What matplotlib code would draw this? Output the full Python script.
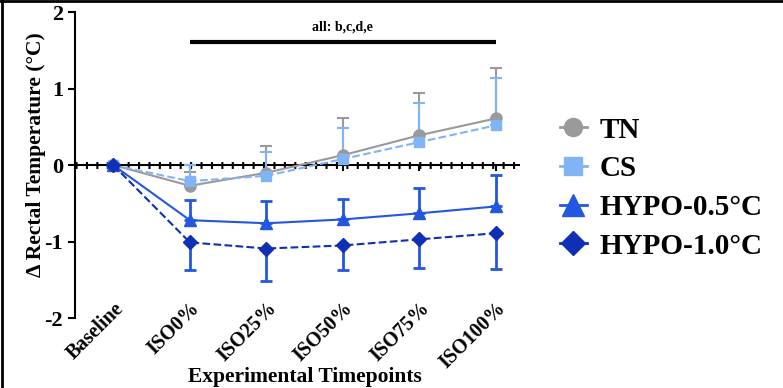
import numpy as np
import matplotlib.pyplot as plt
from matplotlib.lines import Line2D

# timepoints and group means / SD
timepoints = ["Baseline", "ISO0%", "ISO25%", "ISO50%", "ISO75%", "ISO100%"]
tn = [0.0, -0.27, -0.10, 0.13, 0.39, 0.61]
tn_sd = [0.0, 0.18, 0.35, 0.49, 0.555, 0.66]
cs = [0.0, -0.21, -0.14, 0.08, 0.30, 0.52]
cs_sd = [0.0, 0.21, 0.31, 0.41, 0.51, 0.62]
hypo05 = [0.0, -0.72, -0.76, -0.71, -0.63, -0.54]
hypo05_sd = [0.0, 0.27, 0.29, 0.27, 0.33, 0.41]
hypo10 = [0.0, -1.01, -1.09, -1.05, -0.97, -0.89]
hypo10_sd = [0.0, 0.36, 0.42, 0.32, 0.37, 0.47]

c_tn = "#9a9a9c"
c_cs = "#80b4f6"
c_h05 = "#2457e0"
c_h10 = "#0f2fb4"

plt.rcParams['font.family'] = ['Liberation Serif', 'DejaVu Serif']
plt.rcParams['font.weight'] = 'bold'

fig = plt.figure(figsize=(7.83, 3.88), dpi=100)
ax = fig.add_axes([0.0958, 0.180, 0.568, 0.789])

x = np.arange(len(timepoints))
zeros = np.zeros(len(x))

# upper error only for TN, CS, HYPO-0.5; lower only for HYPO-1.0
ax.errorbar(x, tn, yerr=[zeros, tn_sd], color=c_tn, lw=1.5, marker='o', ms=8,
            capsize=4, elinewidth=1.5, capthick=1.5, zorder=3)
ax.errorbar(x, cs, yerr=[zeros, cs_sd], color=c_cs, lw=1.5, ls='--', marker='s', ms=7,
            capsize=4, elinewidth=1.5, capthick=1.5, zorder=3)
ax.errorbar(x, hypo05, yerr=[zeros, hypo05_sd], color=c_h05, lw=1.5, marker='^', ms=9,
            capsize=4, elinewidth=2, capthick=2, zorder=4)
eb = ax.errorbar(x, hypo10, yerr=[hypo10_sd, zeros], color=c_h05, lw=1.5, ls='--',
                 marker='D', ms=7, mfc=c_h10, mec=c_h10,
                 capsize=4, elinewidth=2, capthick=2, zorder=4)
eb[0].set_color(c_h10)
eb[0].set_markerfacecolor(c_h10)

# zero axis line with dense minor ticks look
ax.axhline(0, color='black', lw=1.5, zorder=2)
ax.axhline(0, color='black', lw=5, ls=(0, (0.3, 1.2)), zorder=2)

# significance bar
ax.plot([1, 5], [1.61, 1.61], color='black', lw=3, solid_capstyle='butt')
ax.text(3, 1.80, "all: b,c,d,e", ha='center', va='center', fontsize=10, fontweight='bold')

ax.set_xlim(-0.5, 5.31)
ax.set_ylim(-2, 2)
ax.set_yticks([-2, -1, 0, 1, 2])
ax.set_yticklabels(["-2", "-1", "0", "1", "2"], fontsize=16, fontweight='bold')
ax.set_xticks(x)
ax.set_xticklabels(timepoints, rotation=45, ha='right', rotation_mode='anchor',
                   fontsize=14.5, fontweight='bold')
ax.tick_params(axis='x', length=0, pad=-14)
ax.tick_params(axis='y', length=5, width=1.5)
for s in ['top', 'right', 'bottom']:
    ax.spines[s].set_visible(False)
ax.spines['left'].set_linewidth(1.5)

# ticks on the zero line
for xi in x[1:]:
    ax.plot([xi, xi], [0, -0.07], color='black', lw=1.5, zorder=2)

ax.set_ylabel("Δ Rectal Temperature (°C)", fontsize=15.5, fontweight='bold')
ax.yaxis.set_label_coords(-0.066, 0.533)
ax.set_xlabel("Experimental Timepoints", fontsize=15.5, fontweight='bold')
ax.xaxis.set_label_coords(0.517, -0.16)

handles = [
    Line2D([], [], color=c_tn, marker='o', ms=13, lw=2),
    Line2D([], [], color=c_cs, marker='s', ms=13, lw=2),
    Line2D([], [], color=c_h05, marker='^', ms=16, lw=2),
    Line2D([], [], color=c_h10, marker='D', ms=12, lw=2),
]
fig.legend(handles, ["TN", "CS", "HYPO-0.5°C", "HYPO-1.0°C"], loc='center left',
           bbox_to_anchor=(0.682, 0.515), frameon=False, handlelength=0.9,
           handletextpad=0.45, labelspacing=0.4,
           prop={'family': 'Liberation Serif', 'weight': 'bold', 'size': 21})

# frame lines on top and left edges
fig.add_artist(Line2D([0, 1], [0.998, 0.998], color='black', lw=2, transform=fig.transFigure))
fig.add_artist(Line2D([0.002, 0.002], [0, 1], color='black', lw=2, transform=fig.transFigure))

fig.savefig("out.png", dpi=100)
